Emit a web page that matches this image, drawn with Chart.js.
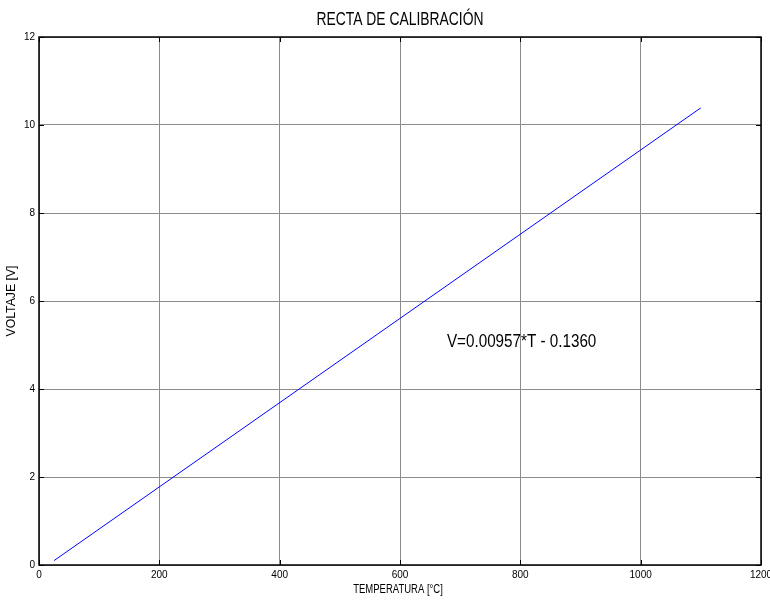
<!DOCTYPE html>
<html>
<head>
<meta charset="utf-8">
<script src="https://cdn.jsdelivr.net/npm/chart.js@4.4.1/dist/chart.umd.min.js"></script>
<style>
  body { margin: 0; background: #fff; }
  #wrap { width: 770px; height: 600px; }
</style>
</head>
<body>
<div id="wrap"><canvas id="myChart"></canvas></div>
<script>
// calibration line end points, temperature [°C] -> voltage [V]
var temps = [25, 1100];
var volts = [0.10, 10.39];
var xTicks = [0, 200, 400, 600, 800, 1000, 1200];
var yTicks = [0, 2, 4, 6, 8, 10, 12];
var titleText = 'RECTA DE CALIBRACIÓN';
var xLabel = 'TEMPERATURA [°C]';
var yLabel = 'VOLTAJE [V]';
var eqText = 'V=0.00957*T - 0.1360';
var eqPos = [678, 5.07];

var font = '"Liberation Sans", Arial, sans-serif';

// no narrow font around, so squeeze the text horizontally
function narrowText(c, txt, x, y, size, sx, align){
    c.save();
    c.font = size + 'px ' + font;
    c.textAlign = align || 'center';
    c.textBaseline = 'middle';
    c.translate(x, y);
    c.scale(sx, 1);
    c.fillText(txt, 0, 0);
    c.restore();
}

// box, inward ticks and the texts, drawn the old matlab way
var frame = {
    id: 'frame',
    afterDraw: function(chart){
        var c = chart.ctx, a = chart.chartArea;
        var xs = chart.scales.x, ys = chart.scales.y;
        c.save();
        c.strokeStyle = '#000';
        c.lineWidth = 1;
        c.beginPath();
        xTicks.forEach(function(t){
            var px = Math.round(xs.getPixelForValue(t)) + 0.5;
            c.moveTo(px, a.bottom); c.lineTo(px, a.bottom - 5);
            c.moveTo(px, a.top); c.lineTo(px, a.top + 5);
        });
        yTicks.forEach(function(t){
            var py = Math.round(ys.getPixelForValue(t)) + 0.5;
            c.moveTo(a.left, py); c.lineTo(a.left + 5, py);
            c.moveTo(a.right, py); c.lineTo(a.right - 5, py);
        });
        c.stroke();
        c.lineWidth = 1.5;
        c.strokeRect(a.left, a.top, a.right - a.left, a.bottom - a.top);

        c.fillStyle = '#000';
        var mid = (a.left + a.right) / 2;
        narrowText(c, titleText, mid, 20, 19, 0.73);
        narrowText(c, xLabel, mid - 2, 590, 12.5, 0.76);

        c.save();
        c.translate(12, (a.top + a.bottom) / 2);
        c.rotate(-Math.PI / 2);
        narrowText(c, yLabel, 0, 0, 12.5, 0.98);
        c.restore();

        narrowText(c, eqText, xs.getPixelForValue(eqPos[0]), ys.getPixelForValue(eqPos[1]), 17.5, 0.87, 'left');
        c.restore();
    }
};

var ctx = document.getElementById('myChart').getContext('2d');
var chart = new Chart(ctx, {
    type: 'scatter',
    data: {
        datasets: [{
            data: temps.map(function(t, i){ return {x: t, y: volts[i]}; }),
            showLine: true,
            borderColor: '#0000ff',
            borderWidth: 1,
            pointRadius: 0,
            fill: false
        }]
    },
    options: {
        responsive: true,
        maintainAspectRatio: false,
        animation: false,
        layout: { padding: { top: 37, right: 9, left: 0, bottom: 0 } },
        plugins: { legend: { display: false }, tooltip: { enabled: false } },
        scales: {
            x: {
                type: 'linear', min: 0, max: 1200,
                afterBuildTicks: function(s){ s.ticks = xTicks.map(function(v){ return {value: v}; }); },
                afterFit: function(s){ s.height = 35; s.paddingLeft = 0; s.paddingRight = 0; },
                grid: { color: '#8c8c8c', lineWidth: 1, drawTicks: false },
                border: { display: false },
                ticks: {
                    color: '#000', padding: 4, maxRotation: 0, font: { family: font, size: 10 },
                    callback: function(v){ return String(v); }
                }
            },
            y: {
                min: 0, max: 12,
                afterBuildTicks: function(s){ s.ticks = yTicks.map(function(v){ return {value: v}; }); },
                afterFit: function(s){ s.width = 39; s.paddingTop = 0; s.paddingBottom = 0; },
                grid: { color: '#8c8c8c', lineWidth: 1, drawTicks: false },
                border: { display: false },
                ticks: { color: '#000', padding: 4, font: { family: font, size: 10 } }
            }
        }
    },
    plugins: [frame]
});
</script>
</body>
</html>
